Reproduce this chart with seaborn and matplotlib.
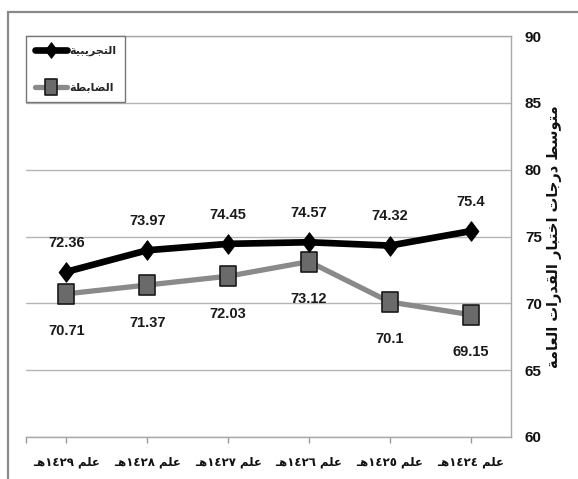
import numpy as np
import pandas as pd
import matplotlib
matplotlib.use("Agg")
import matplotlib.pyplot as plt
from matplotlib.path import Path
from matplotlib.patches import Rectangle
import seaborn as sns

# Hijri years (visual order, Arabic presentation forms)
years = ["ـﻫ١٤٢٩ ﻢﻠﻋ", "ـﻫ١٤٢٨ ﻢﻠﻋ", "ـﻫ١٤٢٧ ﻢﻠﻋ",
         "ـﻫ١٤٢٦ ﻢﻠﻋ", "ـﻫ١٤٢٥ ﻢﻠﻋ", "ـﻫ١٤٢٤ ﻢﻠﻋ"]
experimental = [72.36, 73.97, 74.45, 74.57, 74.32, 75.4]
control = [70.71, 71.37, 72.03, 73.12, 70.1, 69.15]
exp_name = "ﺔﻴﺒﻳﺮﺠﺘﻟﺍ"
ctl_name = "ﺔﻄﺑﺎﻀﻟﺍ"
y_title = "ﺔﻣﺎﻌﻟﺍ ﺕﺍﺭﺪﻘﻟﺍ ﺭﺎﺒﺘﺧﺍ ﺕﺎﺟﺭﺩ ﻂﺳﻮﺘﻣ"
y_ticks = [60, 65, 70, 75, 80, 85, 90]

sns.set_theme(style="white")
plt.rcParams["font.family"] = ["DejaVu Sans"]

pos = np.arange(len(years))
df = pd.DataFrame({"pos": pos, "exp": experimental, "ctl": control})

fig = plt.figure(figsize=(5.78, 4.79), dpi=100)
fig.patch.set_facecolor("white")
ax = fig.add_axes([26 / 578, 42 / 479, 485 / 578, 401 / 479])

diamond = Path([(0, 1), (0.75, 0), (0, -1), (-0.75, 0), (0, 1)],
               [Path.MOVETO, Path.LINETO, Path.LINETO, Path.LINETO, Path.CLOSEPOLY])
tall_square = Path([(-0.8, -1), (0.8, -1), (0.8, 1), (-0.8, 1), (-0.8, -1)],
                   [Path.MOVETO, Path.LINETO, Path.LINETO, Path.LINETO, Path.CLOSEPOLY])

sns.lineplot(data=df, x="pos", y="exp", ax=ax, color="black", linewidth=4.8,
             marker=diamond, markersize=14, markerfacecolor="black",
             markeredgecolor="black", label=exp_name, zorder=4)
sns.lineplot(data=df, x="pos", y="ctl", ax=ax, color="#8a8a8a", linewidth=3.8,
             marker=tall_square, markersize=14, markerfacecolor="#6a6a6a",
             markeredgecolor="#1a1a1a", markeredgewidth=1.2, label=ctl_name, zorder=3)

label_font = dict(family="Liberation Sans", weight="bold", size=10.5, color="#1a1a1a")
for x, v in zip(pos, experimental):
    ax.annotate(f"{v:g}", (x, v), xytext=(0, 21), textcoords="offset points",
                ha="center", va="center", **label_font)
for x, v in zip(pos, control):
    ax.annotate(f"{v:g}", (x, v), xytext=(0, -27), textcoords="offset points",
                ha="center", va="center", **label_font)

ax.set_xlim(-0.5, len(years) - 0.5)
ax.set_ylim(60, 90)
ax.set_yticks(y_ticks)
ax.yaxis.tick_right()
ax.yaxis.set_label_position("right")
ax.set_yticklabels([str(t) for t in y_ticks], family="Liberation Sans",
                   weight="bold", size=11, color="#111111")
ax.tick_params(axis="y", length=0, pad=10)

ax.set_xticks(pos)
ax.set_xticklabels(years, weight="bold", size=8.5, color="#111111")
ax.set_xticks([-0.5], minor=True)
ax.tick_params(axis="x", which="both", direction="out", length=4, width=1,
               color="#999999", pad=9, bottom=True)
ax.set_xlabel("")

ax.set_ylabel(y_title, rotation=90, weight="bold", size=10.5, color="#111111",
              labelpad=4)

ax.grid(axis="y", color="#b4b4b4", linewidth=1)
ax.grid(axis="x", visible=False)
for side in ["top", "right", "bottom"]:
    ax.spines[side].set_color("#a8a8a8")
    ax.spines[side].set_linewidth(1)
ax.spines["left"].set_visible(False)

leg = ax.legend(loc="upper left", bbox_to_anchor=(0, 1), borderaxespad=0,
                frameon=True, fancybox=False, edgecolor="#777777",
                framealpha=1, prop=dict(family="DejaVu Sans", weight="bold", size=8),
                handlelength=2.8, labelspacing=2.4, borderpad=0.85, handletextpad=0.2,
                markerscale=0.8)
leg.get_frame().set_linewidth(1)
leg.set_zorder(10)

# Outer frame of the figure
fig.patches.append(Rectangle((8 / 578, -0.05), 1.2, (479 - 12) / 479 + 0.05,
                             transform=fig.transFigure, fill=False,
                             edgecolor="#8a8a8a", linewidth=1.6, zorder=0))

fig.savefig("out.png", dpi=100, facecolor="white")
